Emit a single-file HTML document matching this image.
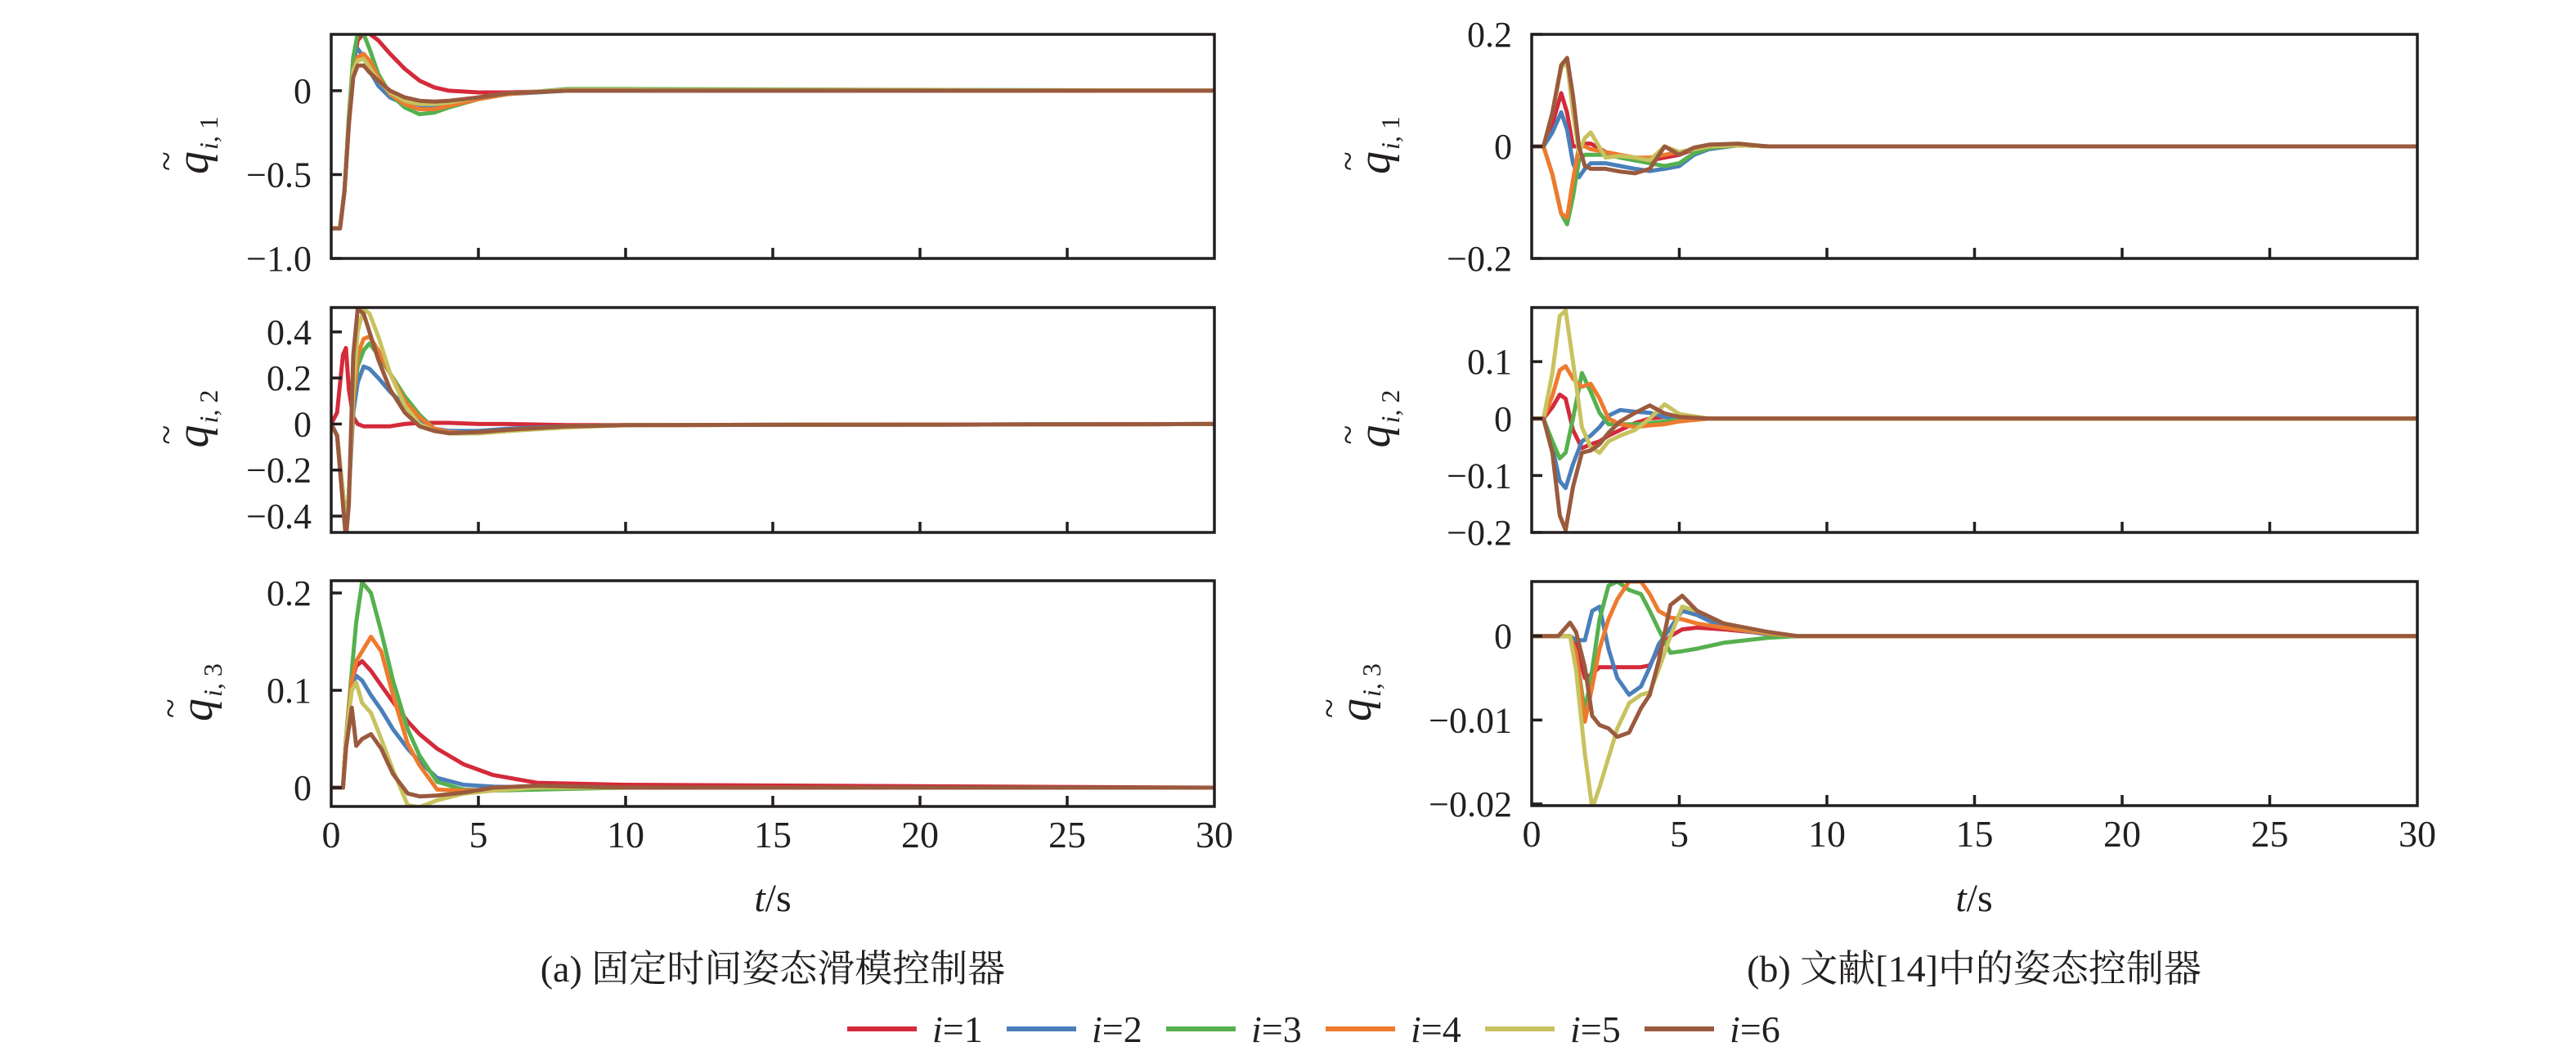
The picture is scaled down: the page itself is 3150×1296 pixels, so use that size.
<!DOCTYPE html>
<html><head><meta charset="utf-8"><style>
html,body{margin:0;padding:0;background:#fff;}
svg{display:block;}
text{font-family:"Liberation Serif","Noto Serif CJK SC",serif;fill:#231f20;}
</style></head><body>
<svg id="chart" width="3150" height="1296" viewBox="0 0 3150 1296" xmlns="http://www.w3.org/2000/svg">
<g id="plots"></g>
<text x="945" y="1114" font-size="48" text-anchor="middle"><tspan font-style="italic">t</tspan>/s</text>
<text x="2414" y="1114" font-size="48" text-anchor="middle"><tspan font-style="italic">t</tspan>/s</text>
<text x="945" y="1200" font-size="46" text-anchor="middle">(a) 固定时间姿态滑模控制器</text>
<text x="2414" y="1200" font-size="46" text-anchor="middle">(b) 文献[14]中的姿态控制器</text>
<g id="legend"></g>
</svg>
<script>
const seriesNames = ["i=1","i=2","i=3","i=4","i=5","i=6"];
const seriesColors = ["#d42a3a","#4a7fba","#56b04f","#ee7a2e","#c8c25f","#9a5a3e"];
const xTicks = [0,5,10,15,20,25,30];

// (a) panel 1
const a1T = [0,0.3,0.45,0.6,0.75,0.9,1.1,1.3,1.6,2,2.5,3,3.5,4,5,6,8,10,30];
const a1S1 = [-0.82,-0.82,-0.6,-0.2,0.15,0.3,0.34,0.34,0.3,0.22,0.13,0.06,0.02,0,-0.01,-0.01,0,0,0];
const a1S2 = [-0.82,-0.82,-0.6,-0.2,0.2,0.25,0.2,0.12,0.03,-0.04,-0.08,-0.1,-0.09,-0.07,-0.04,-0.02,0,0,0];
const a1S3 = [-0.82,-0.82,-0.6,-0.15,0.2,0.34,0.34,0.25,0.1,-0.02,-0.1,-0.14,-0.13,-0.1,-0.05,-0.02,0.01,0.01,0];
const a1S4 = [-0.82,-0.82,-0.6,-0.2,0.12,0.2,0.22,0.18,0.08,-0.02,-0.08,-0.11,-0.11,-0.09,-0.05,-0.02,0.005,0.005,0];
const a1S5 = [-0.82,-0.82,-0.6,-0.2,0.12,0.18,0.19,0.14,0.06,-0.01,-0.06,-0.08,-0.08,-0.07,-0.04,-0.015,0.005,0.005,0];
const a1S6 = [-0.82,-0.82,-0.6,-0.2,0.08,0.15,0.15,0.11,0.06,0.0,-0.04,-0.06,-0.065,-0.06,-0.04,-0.015,0,0,0];
const a1Ticks = [0,-0.5,-1.0];
const a1TickLabels = ["0","\u22120.5","\u22121.0"];

// (a) panel 2
const a2T = [0,0.2,0.4,0.5,0.6,0.75,0.9,1.1,1.3,1.6,2,2.5,3,3.5,4,5,6,8,10,30];
const a2S1 = [0,0.05,0.3,0.33,0.15,0.03,0.0,-0.01,-0.01,-0.01,-0.01,0,0.005,0.005,0.005,0,0,-0.005,-0.005,0];
const a2S2 = [0,-0.05,-0.3,-0.45,-0.3,0.05,0.18,0.25,0.24,0.2,0.14,0.08,0.02,-0.02,-0.03,-0.03,-0.02,-0.01,-0.005,0];
const a2S3 = [0,-0.05,-0.3,-0.45,-0.3,0.1,0.25,0.32,0.35,0.3,0.22,0.12,0.04,-0.02,-0.04,-0.04,-0.03,-0.01,-0.005,0];
const a2S4 = [0,-0.05,-0.3,-0.45,-0.3,0.1,0.3,0.37,0.38,0.32,0.22,0.1,0.03,-0.02,-0.035,-0.04,-0.03,-0.01,-0.005,0];
const a2S5 = [0,-0.05,-0.3,-0.47,-0.3,0.15,0.4,0.5,0.48,0.38,0.22,0.08,0.0,-0.03,-0.04,-0.04,-0.03,-0.015,-0.005,0];
const a2S6 = [0,-0.05,-0.35,-0.5,-0.35,0.3,0.5,0.48,0.4,0.28,0.15,0.05,-0.01,-0.03,-0.04,-0.035,-0.025,-0.01,-0.005,0];
const a2Ticks = [0.4,0.2,0,-0.2,-0.4];
const a2TickLabels = ["0.4","0.2","0","\u22120.2","\u22120.4"];

// (a) panel 3
const a3T = [0,0.4,0.5,0.7,0.85,1.05,1.35,1.7,2.1,2.6,3,3.6,4.5,5.5,7,10,30];
const a3S1 = [0,0,0.04,0.11,0.125,0.13,0.12,0.105,0.088,0.068,0.055,0.04,0.024,0.013,0.005,0.003,0];
const a3S2 = [0,0,0.05,0.105,0.115,0.11,0.095,0.08,0.06,0.04,0.027,0.01,0.003,0.001,0,0,0];
const a3S3 = [0,0,0.05,0.12,0.17,0.211,0.2,0.16,0.11,0.06,0.033,0.006,-0.002,-0.003,-0.002,0,0];
const a3S4 = [0,0,0.05,0.11,0.13,0.14,0.155,0.14,0.095,0.045,0.023,-0.002,-0.003,-0.002,0,0,0];
const a3S5 = [0,0,0.05,0.1,0.108,0.087,0.077,0.05,0.018,-0.018,-0.02,-0.013,-0.006,-0.003,0,0,0];
const a3S6 = [0,0,0.04,0.082,0.043,0.05,0.055,0.04,0.014,-0.006,-0.009,-0.008,-0.005,0,0.002,0,0];
const a3Ticks = [0.2,0.1,0];
const a3TickLabels = ["0.2","0.1","0"];

// (b) panel 1
const b1T = [0,0.4,0.7,1.0,1.2,1.4,1.6,1.8,2.0,2.5,3,3.5,4,4.5,5,5.5,6,7,8,30];
const b1S1 = [0,0,0.04,0.095,0.06,0.0,0.0,0.005,0.005,-0.01,-0.02,-0.025,-0.025,-0.02,-0.015,-0.005,0,0.002,0,0];
const b1S2 = [0,0,0.025,0.061,0.03,-0.03,-0.055,-0.04,-0.03,-0.03,-0.035,-0.04,-0.044,-0.04,-0.035,-0.015,-0.005,0.002,0,0];
const b1S3 = [0,0,-0.05,-0.12,-0.139,-0.09,-0.025,-0.015,-0.015,-0.015,-0.02,-0.025,-0.03,-0.035,-0.03,-0.012,-0.003,0.002,0,0];
const b1S4 = [0,0,-0.05,-0.12,-0.127,-0.06,0.0,0.0,-0.005,-0.01,-0.015,-0.02,-0.02,-0.015,-0.01,-0.005,0,0.002,0,0];
const b1S5 = [0,0,0.06,0.14,0.15,0.06,-0.01,0.015,0.025,-0.02,-0.017,-0.02,-0.025,0,-0.01,-0.005,0,0.002,0,0];
const b1S6 = [0,0,0.06,0.145,0.158,0.09,0.0,-0.035,-0.04,-0.04,-0.045,-0.048,-0.04,0.0,-0.015,-0.002,0.003,0.005,0,0];
const b1Ticks = [0.2,0,-0.2];
const b1TickLabels = ["0.2","0","\u22120.2"];

// (b) panel 2
const b2T = [0,0.4,0.7,0.95,1.15,1.4,1.7,2.0,2.3,2.6,3,3.5,4,4.5,5,6,30];
const b2S1 = [0,0,0.02,0.042,0.035,-0.02,-0.052,-0.045,-0.04,-0.03,-0.02,-0.008,0,0.003,0.002,0,0];
const b2S2 = [0,0,-0.05,-0.11,-0.122,-0.08,-0.04,-0.03,-0.015,0.005,0.015,0.012,0.01,0.003,0,0,0];
const b2S3 = [0,0,-0.04,-0.07,-0.06,0.0,0.08,0.047,0.01,-0.01,-0.01,-0.01,-0.008,-0.005,-0.002,0,0];
const b2S4 = [0,0,0.04,0.085,0.092,0.07,0.056,0.061,0.035,0.0,-0.01,-0.015,-0.012,-0.01,-0.005,0,0];
const b2S5 = [0,0,0.08,0.18,0.19,0.1,-0.015,-0.05,-0.06,-0.04,-0.03,-0.02,0.0,0.025,0.008,0,0];
const b2S6 = [0,0,-0.06,-0.17,-0.196,-0.12,-0.06,-0.056,-0.045,-0.025,-0.005,0.01,0.023,0.009,0.003,0,0];
const b2Ticks = [0.1,0,-0.1,-0.2];
const b2TickLabels = ["0.1","0","\u22120.1","\u22120.2"];

// (b) panel 3
const b3T = [0,0.9,1.3,1.5,1.8,2.05,2.3,2.6,2.9,3.3,3.7,4.0,4.3,4.7,5.1,5.6,6.5,8,9,30];
const b3S1 = [0,0,0,-0.001,-0.005,-0.0045,-0.0037,-0.0037,-0.0037,-0.0037,-0.0037,-0.0035,-0.0015,0.0,0.0008,0.001,0.0008,0.0003,0,0];
const b3S2 = [0,0,0,-0.0005,-0.0005,0.003,0.0035,-0.0015,-0.005,-0.007,-0.006,-0.0037,-0.001,0.001,0.003,0.0025,0.001,0.0002,0,0];
const b3S3 = [0,0,0,-0.002,-0.009,-0.004,0.002,0.006,0.0065,0.0055,0.005,0.003,0.0008,-0.002,-0.0018,-0.0015,-0.0008,-0.0002,0,0];
const b3S4 = [0,0,0,-0.002,-0.0102,-0.006,-0.0015,0.002,0.0044,0.0065,0.0065,0.005,0.003,0.0022,0.002,0.0015,0.001,0.0003,0,0];
const b3S5 = [0,0,0,-0.004,-0.014,-0.0205,-0.018,-0.0145,-0.011,-0.008,-0.007,-0.0067,-0.004,0.0,0.0035,0.003,0.0015,0.0004,0,0];
const b3S6 = [0,0,0.0016,0.0005,-0.0037,-0.0095,-0.0106,-0.011,-0.012,-0.0115,-0.0086,-0.007,-0.003,0.0037,0.0048,0.003,0.0015,0.0005,0,0];
const b3Ticks = [0,-0.01,-0.02];
const b3TickLabels = ["0","\u22120.01","\u22120.02"];

const NS = "http://www.w3.org/2000/svg";
const plots = document.getElementById("plots");
const svg = document.getElementById("chart");
function mk(tag, attrs, parent){ const e=document.createElementNS(NS,tag); for(const k in attrs) e.setAttribute(k,attrs[k]); (parent||plots).appendChild(e); return e; }

const panels = [
 {id:"a1", x0:405, x1:1485, y0:42, y1:316, vmin:-1.0, vmax:0.336, T:a1T, S:[a1S1,a1S2,a1S3,a1S4,a1S5,a1S6], ticks:a1Ticks, labels:a1TickLabels, sub:"1", lx:240},
 {id:"a2", x0:405, x1:1485, y0:376, y1:651, vmin:-0.471, vmax:0.506, T:a2T, S:[a2S1,a2S2,a2S3,a2S4,a2S5,a2S6], ticks:a2Ticks, labels:a2TickLabels, sub:"2", lx:240},
 {id:"a3", x0:405, x1:1485, y0:710, y1:986, vmin:-0.0193, vmax:0.2126, T:a3T, S:[a3S1,a3S2,a3S3,a3S4,a3S5,a3S6], ticks:a3Ticks, labels:a3TickLabels, sub:"3", lx:245},
 {id:"b1", x0:1873, x1:2956, y0:42, y1:316, vmin:-0.2, vmax:0.2, T:b1T, S:[b1S1,b1S2,b1S3,b1S4,b1S5,b1S6], ticks:b1Ticks, labels:b1TickLabels, sub:"1", lx:1685},
 {id:"b2", x0:1873, x1:2956, y0:376, y1:651, vmin:-0.2, vmax:0.195, T:b2T, S:[b2S1,b2S2,b2S3,b2S4,b2S5,b2S6], ticks:b2Ticks, labels:b2TickLabels, sub:"2", lx:1685},
 {id:"b3", x0:1873, x1:2956, y0:711, y1:985, vmin:-0.0202, vmax:0.0065, T:b3T, S:[b3S1,b3S2,b3S3,b3S4,b3S5,b3S6], ticks:b3Ticks, labels:b3TickLabels, sub:"3", lx:1662}
];

panels.forEach(p=>{
  const xs = t => p.x0 + (t/30)*(p.x1-p.x0);
  const ys = v => p.y1 - (v-p.vmin)/(p.vmax-p.vmin)*(p.y1-p.y0);
  const g = mk("g",{});
  
  
  const defs = mk("defs",{},g);
  const cp = mk("clipPath",{id:"clip-"+p.id},defs);
  mk("rect",{x:p.x0,y:p.y0,width:p.x1-p.x0,height:p.y1-p.y0},cp);
  const lines = mk("g",{"clip-path":"url(#clip-"+p.id+")"},g);
  p.S.forEach((vals,k)=>{
    const pts = p.T.map((t,i)=>xs(t).toFixed(1)+","+ys(vals[i]).toFixed(1)).join(" ");
    const pl = mk("polyline",{points:pts,fill:"none",stroke:seriesColors[k],"stroke-width":5,"stroke-linejoin":"round","stroke-linecap":"round"},lines);
    
    
  });
  const fr = mk("rect",{x:p.x0,y:p.y0,width:p.x1-p.x0,height:p.y1-p.y0,fill:"none",stroke:"#231f20","stroke-width":3.5},g);
  
  
  xTicks.forEach(t=>{
    if(t>0 && t<30){
      const tk = mk("line",{x1:xs(t),x2:xs(t),y1:p.y1,y2:p.y1-13,stroke:"#231f20","stroke-width":3.5},g);
      
      
    }
    if(p.id==="a3"||p.id==="b3"){
      const tl = mk("text",{x:xs(t),y:p.y1+50,"font-size":46,"text-anchor":"middle"},g);
      tl.textContent = String(t);
      
      
    }
  });
  p.ticks.forEach((v,i)=>{
    const y = ys(v);
    const tk = mk("line",{x1:p.x0,x2:p.x0+13,y1:y,y2:y,stroke:"#231f20","stroke-width":3.5},g);
    
    
    const tl = mk("text",{x:p.x0-24,y:y+15,"font-size":44,"text-anchor":"end"},g);
    tl.textContent = p.labels[i];
    
    
  });
  const cy = (p.y0+p.y1)/2;
  const lab = mk("g",{transform:"translate("+p.lx+","+cy+") rotate(-90)"},g);
  
  
  const q = mk("text",{x:-34,y:14,"font-size":56,"font-style":"italic"},lab);
  q.textContent = "q";
  const tl = mk("text",{x:-30,y:-22,"font-size":44},lab);
  tl.textContent = "~";
  const sb = mk("text",{x:-4,y:26,"font-size":32},lab);
  sb.innerHTML = '<tspan font-style="italic">i</tspan>, '+p.sub;
});

const legend = document.getElementById("legend");
seriesNames.forEach((nm,k)=>{
  const x = 1036 + k*195;
  const g = mk("g",{},legend);
  
  
  mk("line",{x1:x,x2:x+85,y1:1258,y2:1258,stroke:seriesColors[k],"stroke-width":6},g);
  const t = mk("text",{x:x+104,y:1274,"font-size":46},g);
  t.innerHTML = '<tspan font-style="italic">i</tspan>='+(k+1);
});
</script>
</body></html>
